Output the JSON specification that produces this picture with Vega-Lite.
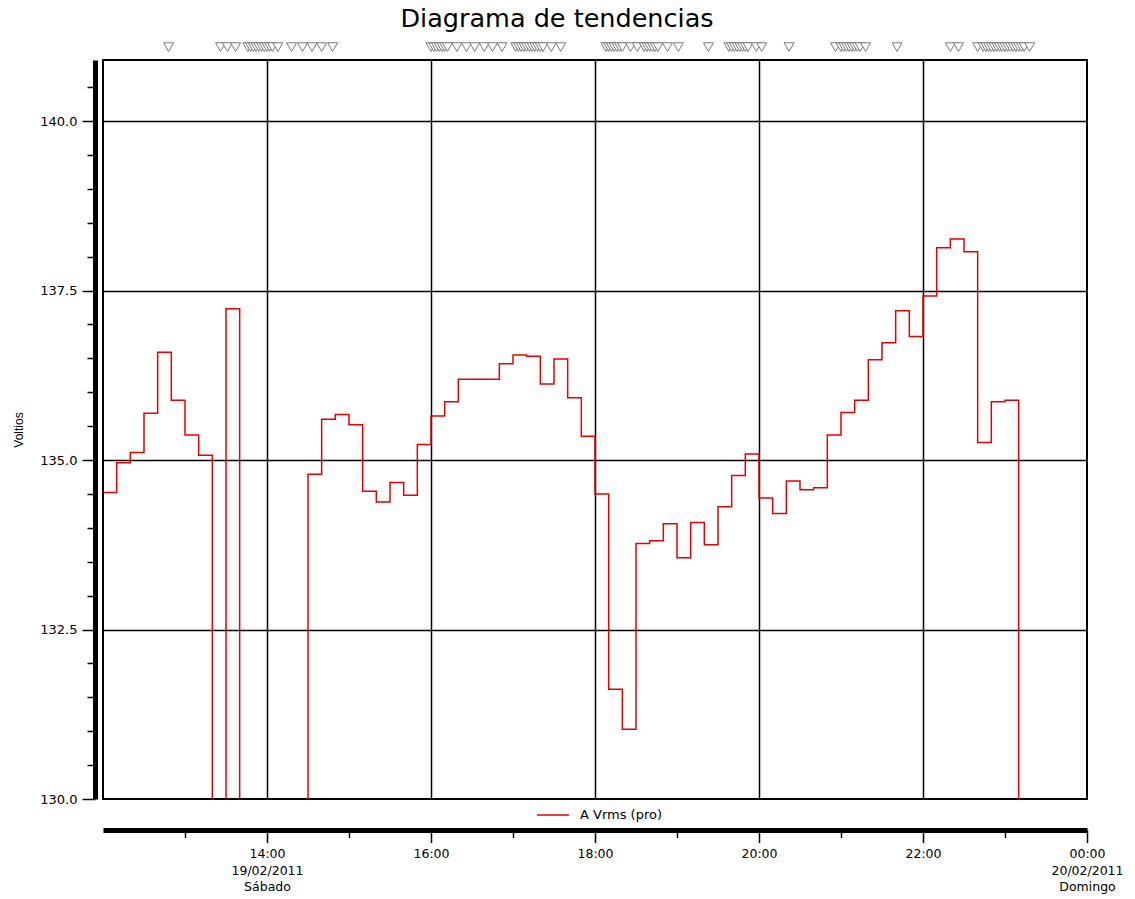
{
  "$schema": "https://vega.github.io/schema/vega-lite/v6.json",
  "width": 984,
  "height": 739,
  "autosize": {"type": "none"},
  "padding": {"left": 103, "top": 60, "right": 48, "bottom": 100},
  "background": "white",
  "title": {
    "text": "Diagrama de tendencias",
    "font": "DejaVu Sans",
    "fontSize": 25.5,
    "fontWeight": "normal",
    "color": "black",
    "anchor": "middle",
    "frame": "group",
    "dx": -38,
    "offset": 8
  },
  "config": {
    "view": {"stroke": "black", "strokeWidth": 2},
    "font": "DejaVu Sans"
  },
  "datasets": {
    "voltios": [
      {"hora": "2011-02-19T12:00:00", "valor": 134.52},
      {"hora": "2011-02-19T12:10:00", "valor": 134.96},
      {"hora": "2011-02-19T12:20:00", "valor": 135.11},
      {"hora": "2011-02-19T12:30:00", "valor": 135.69},
      {"hora": "2011-02-19T12:40:00", "valor": 136.59},
      {"hora": "2011-02-19T12:50:00", "valor": 135.88},
      {"hora": "2011-02-19T13:00:00", "valor": 135.37},
      {"hora": "2011-02-19T13:10:00", "valor": 135.07},
      {"hora": "2011-02-19T13:20:00", "valor": 0},
      {"hora": "2011-02-19T13:30:00", "valor": 137.23},
      {"hora": "2011-02-19T13:40:00", "valor": 0},
      {"hora": "2011-02-19T13:50:00", "valor": 0},
      {"hora": "2011-02-19T14:00:00", "valor": 0},
      {"hora": "2011-02-19T14:10:00", "valor": 0},
      {"hora": "2011-02-19T14:20:00", "valor": 0},
      {"hora": "2011-02-19T14:30:00", "valor": 134.79},
      {"hora": "2011-02-19T14:40:00", "valor": 135.60},
      {"hora": "2011-02-19T14:50:00", "valor": 135.67},
      {"hora": "2011-02-19T15:00:00", "valor": 135.52},
      {"hora": "2011-02-19T15:10:00", "valor": 134.54},
      {"hora": "2011-02-19T15:20:00", "valor": 134.38},
      {"hora": "2011-02-19T15:30:00", "valor": 134.67},
      {"hora": "2011-02-19T15:40:00", "valor": 134.48},
      {"hora": "2011-02-19T15:50:00", "valor": 135.23},
      {"hora": "2011-02-19T16:00:00", "valor": 135.65},
      {"hora": "2011-02-19T16:10:00", "valor": 135.86},
      {"hora": "2011-02-19T16:20:00", "valor": 136.19},
      {"hora": "2011-02-19T16:30:00", "valor": 136.19},
      {"hora": "2011-02-19T16:40:00", "valor": 136.19},
      {"hora": "2011-02-19T16:50:00", "valor": 136.42},
      {"hora": "2011-02-19T17:00:00", "valor": 136.55},
      {"hora": "2011-02-19T17:10:00", "valor": 136.53},
      {"hora": "2011-02-19T17:20:00", "valor": 136.12},
      {"hora": "2011-02-19T17:30:00", "valor": 136.49},
      {"hora": "2011-02-19T17:40:00", "valor": 135.92},
      {"hora": "2011-02-19T17:50:00", "valor": 135.35},
      {"hora": "2011-02-19T18:00:00", "valor": 134.50},
      {"hora": "2011-02-19T18:10:00", "valor": 131.62},
      {"hora": "2011-02-19T18:20:00", "valor": 131.03},
      {"hora": "2011-02-19T18:30:00", "valor": 133.77},
      {"hora": "2011-02-19T18:40:00", "valor": 133.81},
      {"hora": "2011-02-19T18:50:00", "valor": 134.06},
      {"hora": "2011-02-19T19:00:00", "valor": 133.56},
      {"hora": "2011-02-19T19:10:00", "valor": 134.08},
      {"hora": "2011-02-19T19:20:00", "valor": 133.75},
      {"hora": "2011-02-19T19:30:00", "valor": 134.31},
      {"hora": "2011-02-19T19:40:00", "valor": 134.77},
      {"hora": "2011-02-19T19:50:00", "valor": 135.09},
      {"hora": "2011-02-19T20:00:00", "valor": 134.44},
      {"hora": "2011-02-19T20:10:00", "valor": 134.21},
      {"hora": "2011-02-19T20:20:00", "valor": 134.69},
      {"hora": "2011-02-19T20:30:00", "valor": 134.56},
      {"hora": "2011-02-19T20:40:00", "valor": 134.59},
      {"hora": "2011-02-19T20:50:00", "valor": 135.37},
      {"hora": "2011-02-19T21:00:00", "valor": 135.70},
      {"hora": "2011-02-19T21:10:00", "valor": 135.88},
      {"hora": "2011-02-19T21:20:00", "valor": 136.48},
      {"hora": "2011-02-19T21:30:00", "valor": 136.73},
      {"hora": "2011-02-19T21:40:00", "valor": 137.20},
      {"hora": "2011-02-19T21:50:00", "valor": 136.82},
      {"hora": "2011-02-19T22:00:00", "valor": 137.42},
      {"hora": "2011-02-19T22:10:00", "valor": 138.13},
      {"hora": "2011-02-19T22:20:00", "valor": 138.26},
      {"hora": "2011-02-19T22:30:00", "valor": 138.07},
      {"hora": "2011-02-19T22:40:00", "valor": 135.26},
      {"hora": "2011-02-19T22:50:00", "valor": 135.86},
      {"hora": "2011-02-19T23:00:00", "valor": 135.88},
      {"hora": "2011-02-19T23:10:00", "valor": 0}
    ],
    "eventos": [
      {"hora": "2011-02-19T12:48:00"},
      {"hora": "2011-02-19T13:26:00"}, {"hora": "2011-02-19T13:31:00"}, {"hora": "2011-02-19T13:37:00"},
      {"hora": "2011-02-19T13:46:00"}, {"hora": "2011-02-19T13:48:00"}, {"hora": "2011-02-19T13:50:00"},
      {"hora": "2011-02-19T13:52:00"}, {"hora": "2011-02-19T13:54:00"}, {"hora": "2011-02-19T13:56:00"},
      {"hora": "2011-02-19T13:58:00"}, {"hora": "2011-02-19T14:00:00"}, {"hora": "2011-02-19T14:02:00"},
      {"hora": "2011-02-19T14:04:00"}, {"hora": "2011-02-19T14:08:00"},
      {"hora": "2011-02-19T14:18:00"}, {"hora": "2011-02-19T14:26:00"}, {"hora": "2011-02-19T14:33:00"},
      {"hora": "2011-02-19T14:40:00"}, {"hora": "2011-02-19T14:48:00"},
      {"hora": "2011-02-19T16:00:00"}, {"hora": "2011-02-19T16:02:00"}, {"hora": "2011-02-19T16:04:00"},
      {"hora": "2011-02-19T16:06:00"}, {"hora": "2011-02-19T16:08:00"}, {"hora": "2011-02-19T16:10:00"},
      {"hora": "2011-02-19T16:12:00"},
      {"hora": "2011-02-19T16:19:00"}, {"hora": "2011-02-19T16:26:00"}, {"hora": "2011-02-19T16:32:00"},
      {"hora": "2011-02-19T16:39:00"}, {"hora": "2011-02-19T16:45:00"}, {"hora": "2011-02-19T16:52:00"},
      {"hora": "2011-02-19T17:02:00"}, {"hora": "2011-02-19T17:04:00"}, {"hora": "2011-02-19T17:06:00"},
      {"hora": "2011-02-19T17:08:00"}, {"hora": "2011-02-19T17:10:00"}, {"hora": "2011-02-19T17:12:00"},
      {"hora": "2011-02-19T17:14:00"}, {"hora": "2011-02-19T17:16:00"}, {"hora": "2011-02-19T17:18:00"},
      {"hora": "2011-02-19T17:20:00"}, {"hora": "2011-02-19T17:22:00"},
      {"hora": "2011-02-19T17:28:00"}, {"hora": "2011-02-19T17:35:00"},
      {"hora": "2011-02-19T18:08:00"}, {"hora": "2011-02-19T18:10:00"}, {"hora": "2011-02-19T18:12:00"},
      {"hora": "2011-02-19T18:14:00"}, {"hora": "2011-02-19T18:16:00"}, {"hora": "2011-02-19T18:18:00"},
      {"hora": "2011-02-19T18:20:00"},
      {"hora": "2011-02-19T18:26:00"}, {"hora": "2011-02-19T18:31:00"},
      {"hora": "2011-02-19T18:36:00"}, {"hora": "2011-02-19T18:38:00"}, {"hora": "2011-02-19T18:40:00"},
      {"hora": "2011-02-19T18:42:00"}, {"hora": "2011-02-19T18:44:00"}, {"hora": "2011-02-19T18:46:00"},
      {"hora": "2011-02-19T18:53:00"}, {"hora": "2011-02-19T19:01:00"},
      {"hora": "2011-02-19T19:23:00"},
      {"hora": "2011-02-19T19:38:00"}, {"hora": "2011-02-19T19:40:00"}, {"hora": "2011-02-19T19:42:00"},
      {"hora": "2011-02-19T19:44:00"}, {"hora": "2011-02-19T19:46:00"}, {"hora": "2011-02-19T19:48:00"},
      {"hora": "2011-02-19T19:50:00"}, {"hora": "2011-02-19T19:52:00"},
      {"hora": "2011-02-19T19:58:00"}, {"hora": "2011-02-19T20:02:00"},
      {"hora": "2011-02-19T20:22:00"},
      {"hora": "2011-02-19T20:56:00"}, {"hora": "2011-02-19T21:00:00"}, {"hora": "2011-02-19T21:02:00"},
      {"hora": "2011-02-19T21:04:00"}, {"hora": "2011-02-19T21:06:00"}, {"hora": "2011-02-19T21:08:00"},
      {"hora": "2011-02-19T21:10:00"}, {"hora": "2011-02-19T21:12:00"}, {"hora": "2011-02-19T21:14:00"},
      {"hora": "2011-02-19T21:18:00"},
      {"hora": "2011-02-19T21:41:00"},
      {"hora": "2011-02-19T22:20:00"}, {"hora": "2011-02-19T22:26:00"},
      {"hora": "2011-02-19T22:40:00"}, {"hora": "2011-02-19T22:44:00"}, {"hora": "2011-02-19T22:46:00"},
      {"hora": "2011-02-19T22:48:00"}, {"hora": "2011-02-19T22:50:00"}, {"hora": "2011-02-19T22:52:00"},
      {"hora": "2011-02-19T22:54:00"}, {"hora": "2011-02-19T22:56:00"}, {"hora": "2011-02-19T22:58:00"},
      {"hora": "2011-02-19T23:00:00"}, {"hora": "2011-02-19T23:02:00"}, {"hora": "2011-02-19T23:04:00"},
      {"hora": "2011-02-19T23:06:00"}, {"hora": "2011-02-19T23:08:00"}, {"hora": "2011-02-19T23:10:00"},
      {"hora": "2011-02-19T23:12:00"}, {"hora": "2011-02-19T23:14:00"}, {"hora": "2011-02-19T23:18:00"}
    ]
  },
  "layer": [
    {
      "data": {"name": "voltios"},
      "mark": {"type": "line", "interpolate": "step-after", "clip": true, "strokeWidth": 1.5},
      "encoding": {
        "x": {
          "field": "hora",
          "type": "temporal",
          "scale": {
            "domain": [
              {"year": 2011, "month": 2, "date": 19, "hours": 12},
              {"year": 2011, "month": 2, "date": 20, "hours": 0}
            ]
          },
          "axis": {
            "title": null,
            "tickCount": 30,
            "values": [
              {"year": 2011, "month": 2, "date": 19, "hours": 13},
              {"year": 2011, "month": 2, "date": 19, "hours": 14},
              {"year": 2011, "month": 2, "date": 19, "hours": 15},
              {"year": 2011, "month": 2, "date": 19, "hours": 16},
              {"year": 2011, "month": 2, "date": 19, "hours": 17},
              {"year": 2011, "month": 2, "date": 19, "hours": 18},
              {"year": 2011, "month": 2, "date": 19, "hours": 19},
              {"year": 2011, "month": 2, "date": 19, "hours": 20},
              {"year": 2011, "month": 2, "date": 19, "hours": 21},
              {"year": 2011, "month": 2, "date": 19, "hours": 22},
              {"year": 2011, "month": 2, "date": 19, "hours": 23},
              {"year": 2011, "month": 2, "date": 20, "hours": 0}
            ],
            "offset": 31,
            "domainColor": "black",
            "domainWidth": 5,
            "tickColor": "black",
            "tickWidth": 1.5,
            "tickSize": {"condition": {"test": "hours(datum.value) % 2 == 0", "value": 12.5}, "value": 7.5},
            "grid": true,
            "gridColor": "black",
            "gridWidth": 1.5,
            "gridOpacity": {"condition": {"test": "hours(datum.value) % 2 == 0 && hours(datum.value) != 0", "value": 1}, "value": 0},
            "labelExpr": "hours(datum.value) == 14 ? ['14:00', '19/02/2011', 'Sábado'] : hours(datum.value) == 0 ? ['00:00', '20/02/2011', 'Domingo'] : hours(datum.value) % 2 == 0 ? timeFormat(datum.value, '%H:%M') : ''",
            "labelFont": "DejaVu Sans",
            "labelFontSize": 12.5,
            "labelColor": "black",
            "labelLineHeight": 16.5,
            "labelPadding": 5,
            "labelOverlap": false,
            "labelFlush": false
          }
        },
        "y": {
          "field": "valor",
          "type": "quantitative",
          "scale": {"domain": [130, 140.9], "nice": false, "zero": false},
          "axis": {
            "title": "Voltios",
            "titleFont": "Liberation Sans",
            "titleFontSize": 12,
            "titleFontWeight": "normal",
            "titleColor": "black",
            "titlePadding": 14,
            "tickCount": 30,
            "values": [130, 130.5, 131, 131.5, 132, 132.5, 133, 133.5, 134, 134.5, 135, 135.5, 136, 136.5, 137, 137.5, 138, 138.5, 139, 139.5, 140, 140.5],
            "offset": 8,
            "domainColor": "black",
            "domainWidth": 5,
            "tickColor": "black",
            "tickWidth": 1.5,
            "tickSize": {"condition": {"test": "datum.value % 2.5 == 0", "value": 13}, "value": 8},
            "grid": true,
            "gridColor": "black",
            "gridWidth": 1.5,
            "gridOpacity": {"condition": {"test": "datum.value % 2.5 == 0 && datum.value > 130", "value": 1}, "value": 0},
            "labelExpr": "datum.value % 2.5 == 0 ? format(datum.value, '.1f') : ''",
            "labelFont": "DejaVu Sans",
            "labelFontSize": 13,
            "labelColor": "black",
            "labelPadding": 5,
            "labelOverlap": false
          }
        },
        "color": {
          "datum": "A Vrms (pro)",
          "type": "nominal",
          "scale": {"range": ["#e60000"]},
          "legend": {
            "orient": "none",
            "legendX": 433,
            "legendY": 738,
            "title": null,
            "padding": 0,
            "symbolType": "stroke",
            "symbolSize": 1024,
            "symbolStrokeWidth": 1.5,
            "labelFont": "DejaVu Sans",
            "labelFontSize": 13,
            "labelColor": "black",
            "labelOffset": 10
          }
        }
      }
    },
    {
      "data": {"name": "eventos"},
      "mark": {"type": "point", "shape": "triangle-down", "filled": true, "fill": "white", "stroke": "#7a7a7a", "strokeWidth": 1, "size": 100, "opacity": 1},
      "encoding": {
        "x": {"field": "hora", "type": "temporal"},
        "y": {"datum": 141.09}
      }
    }
  ]
}
